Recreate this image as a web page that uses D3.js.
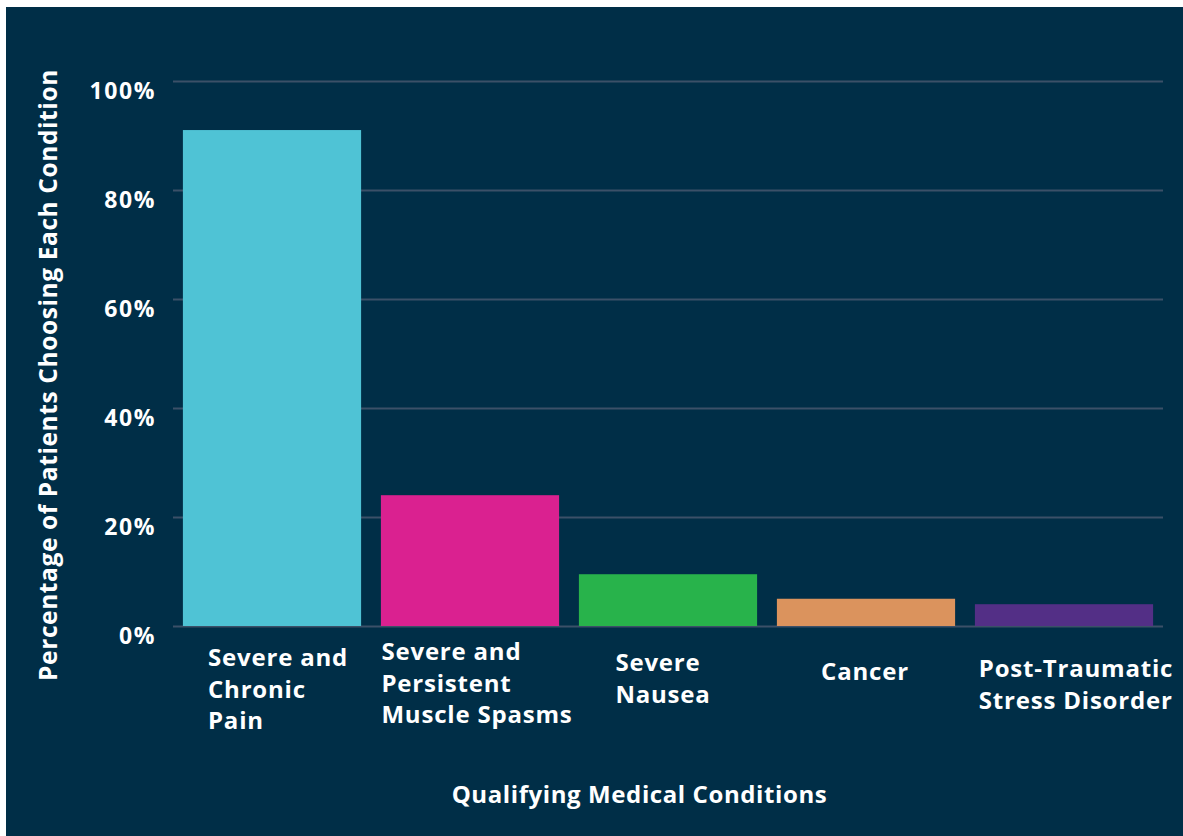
<!DOCTYPE html>
<html>
<head>
<meta charset="utf-8">
<script src="https://cdn.jsdelivr.net/npm/d3@7/dist/d3.min.js"></script>
<style>
  html, body { margin: 0; padding: 0; background: #ffffff; }
  svg { display: block; }
  text { font-family: "Open Sans", sans-serif; font-weight: 700; fill: #ffffff; }
</style>
</head>
<body>
<svg id="chart" width="1183" height="836"></svg>
<script>
// ---- data ----
const categories = [
  "Severe and Chronic Pain",
  "Severe and Persistent Muscle Spasms",
  "Severe Nausea",
  "Cancer",
  "Post-Traumatic Stress Disorder"
];
const labelLines = [
  ["Severe and", "Chronic", "Pain"],
  ["Severe and", "Persistent", "Muscle Spasms"],
  ["Severe", "Nausea"],
  ["Cancer"],
  ["Post-Traumatic", "Stress Disorder"]
];
const values = [91, 24, 9.5, 5, 4];
const colors = ["#4fc3d5", "#da2190", "#28b34b", "#db935d", "#532f86"];
const yTicks = [0, 20, 40, 60, 80, 100];
const yTickLabels = ["0%", "20%", "40%", "60%", "80%", "100%"];
const xTitle = "Qualifying Medical Conditions";
const yTitle = "Percentage of Patients Choosing Each Condition";

// ---- layout ----
const labelFirstBaseline = [666, 660, 671, 680, 677];
const labelShift = [6, 7, -5, -1, 12];
const lineHeight = 31.5;

const svg = d3.select("#chart");
svg.append("rect").attr("x", 6).attr("y", 7).attr("width", 1177).attr("height", 829).attr("fill", "#002e47");

const x = d3.scaleBand().domain(categories).range([173, 1163]).paddingInner(0.1).paddingOuter(0.05);
const y = d3.scaleLinear().domain([0, 100]).range([626, 81]);

// grid
const grid = svg.append("g").attr("class", "grid")
  .attr("transform", "translate(173,0)")
  .call(d3.axisLeft(y).tickValues(yTicks).tickSize(-(1163 - 173)).tickFormat(""));
grid.select(".domain").remove();
grid.selectAll(".tick line").attr("stroke", "#3b5068").attr("stroke-width", 2);

// tick labels
svg.append("g").selectAll("text").data(yTicks).join("text")
  .attr("x", 156)
  .attr("y", d => y(d) + 18)
  .attr("text-anchor", "end")
  .style("font-size", "23px")
  .style("letter-spacing", "1.6px")
  .text((d, i) => yTickLabels[i]);

// bars
svg.append("g").selectAll("rect").data(categories).join("rect")
  .attr("x", d => x(d))
  .attr("y", (d, i) => y(values[i]))
  .attr("width", x.bandwidth())
  .attr("height", (d, i) => y(0) - y(values[i]))
  .attr("fill", (d, i) => colors[i]);

// x labels
categories.forEach((c, i) => {
  const g = svg.append("g");
  const t = g.append("text")
    .style("font-size", "24px")
    .style("letter-spacing", "0.8px");
  labelLines[i].forEach((ln, j) => {
    t.append("tspan").attr("x", 0).attr("y", labelFirstBaseline[i] + j * lineHeight).text(ln);
  });
  const w = t.node().getBBox().width;
  g.attr("transform", `translate(${x(c) + x.bandwidth() / 2 - w / 2 + labelShift[i]},0)`);
});

// axis titles
svg.append("text")
  .attr("x", 639.5).attr("y", 803)
  .attr("text-anchor", "middle")
  .style("font-size", "24px")
  .style("letter-spacing", "0.6px")
  .text(xTitle);

svg.append("text")
  .attr("transform", "translate(57,375) rotate(-90)")
  .attr("text-anchor", "middle")
  .style("font-size", "24.5px")
  .style("letter-spacing", "0.6px")
  .text(yTitle);
</script>
</body>
</html>
